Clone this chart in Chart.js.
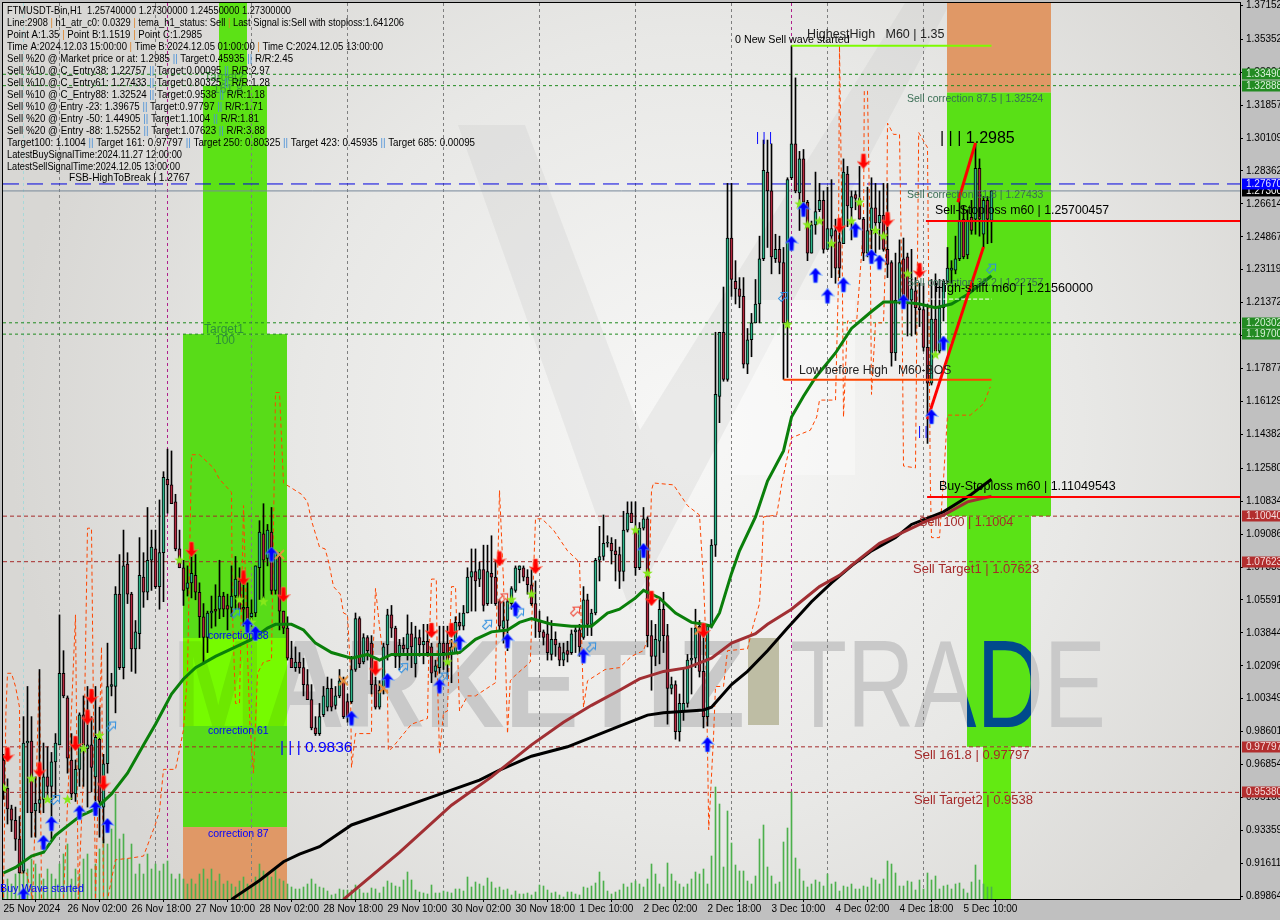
<!DOCTYPE html>
<html>
<head>
<meta charset="utf-8">
<title>FTMUSDT H1</title>
<style>
  html, body { margin: 0; padding: 0; background: #c0c0c0; }
  canvas { display: block; }
</style>
<script src="https://cdn.jsdelivr.net/npm/chart.js@4/dist/chart.umd.min.js"></script>
</head>
<body>
<canvas id="chart" width="1280" height="920" style="width:1280px;height:920px"></canvas>
<script>
// Candles, one per hour, first bar is 25 Nov 10:00
const highs = [
  .974,.961,.947,.946,.941,.994,1.010,.994,.962,1.019,
  .980,.978,.975,.985,1.048,1.029,1.005,.985,.971,.996,
  1.005,1.010,.994,1.010,.999,.974,1.033,1.017,1.063,1.080,
  1.093,1.081,1.060,1.045,1.089,1.081,1.105,1.093,1.093,1.109,
  1.124,1.136,1.135,1.112,1.093,1.077,1.074,1.080,1.080,1.065,
  1.054,1.050,1.058,1.064,1.077,1.060,1.059,1.074,1.079,1.073,
  1.070,1.065,1.056,1.074,1.098,1.107,1.096,1.105,1.082,1.081,
  1.050,1.047,1.034,1.031,1.028,1.025,1.019,1.011,.994,1.001,
  1.010,1.015,1.014,1.010,1.019,1.015,1.006,1.026,1.049,1.047,
  1.038,1.037,1.037,1.015,1.013,1.033,1.051,1.053,1.042,1.035,
  1.036,1.048,1.044,1.042,1.040,1.043,1.043,1.033,1.024,1.042,
  1.042,1.042,1.035,1.047,1.049,1.053,1.073,1.083,1.083,1.076,
  1.085,1.085,1.090,1.077,1.056,1.055,1.056,1.063,1.074,1.074,
  1.074,1.072,1.072,1.066,1.050,1.040,1.047,1.045,1.039,1.033,
  1.033,1.034,1.040,1.042,1.043,1.063,1.059,1.051,1.078,1.095,
  1.101,1.090,1.089,1.088,1.084,1.103,1.108,1.108,1.108,1.097,
  1.105,1.100,1.045,1.043,1.056,1.060,1.043,1.015,1.013,1.006,
  1.020,1.027,1.041,1.051,1.045,1.042,1.043,1.088,1.198,1.198,
  1.222,1.277,1.277,1.236,1.227,1.227,1.200,1.208,1.226,1.249,
  1.300,1.300,1.298,1.250,1.249,1.243,1.280,1.350,1.333,1.294,
  1.295,1.268,1.257,1.283,1.277,1.273,1.275,1.279,1.258,1.258,
  1.290,1.286,1.273,1.273,1.286,1.259,1.275,1.280,1.277,1.273,
  1.277,1.277,1.236,1.240,1.247,1.248,1.240,1.242,1.227,1.224,
  1.224,1.213,1.226,1.229,1.226,1.226,1.243,1.236,1.249,1.272,
  1.265,1.263,1.268,1.298,1.290,1.270,1.270,1.273
];
const lows = [
  .950,.937,.933,.923,.911,.911,.943,.930,.930,.943,
  .943,.950,.929,.951,.979,1.004,.964,.950,.949,.957,
  .957,.946,.954,.946,.930,.927,.964,1.005,.996,1.019,
  1.014,1.054,1.018,1.017,1.030,1.052,1.056,1.061,1.062,1.051,
  1.055,1.102,1.107,1.082,1.073,1.053,1.058,1.057,1.056,1.036,
  1.022,1.028,1.041,1.042,1.046,1.047,1.040,1.047,1.051,1.051,
  1.042,1.040,1.042,1.047,1.056,1.057,1.074,1.059,1.059,1.040,
  1.038,1.024,1.020,1.018,1.017,1.005,1.003,.987,.984,.984,
  .994,.997,.997,.998,1.004,.993,.991,1.001,1.018,1.020,
  1.022,1.024,1.006,.998,.998,1.006,1.024,1.036,1.020,1.019,
  1.028,1.024,1.020,1.015,1.026,1.022,1.026,1.012,1.015,1.017,
  1.019,1.015,1.012,1.028,1.040,1.040,1.049,1.050,1.050,1.063,
  1.050,1.053,1.054,1.053,1.040,1.033,1.029,1.051,1.060,1.065,
  1.066,1.059,1.053,1.036,1.036,1.032,1.024,1.024,1.026,1.021,
  1.021,1.023,1.027,1.028,1.026,1.035,1.037,1.037,1.048,1.066,
  1.077,1.084,1.075,1.066,1.062,1.066,1.092,1.097,1.069,1.072,
  1.093,1.031,1.008,1.021,1.022,1.028,.990,1.006,.982,.981,
  .992,.999,1.006,1.020,1.015,.988,.989,1.041,1.079,1.150,
  1.172,1.172,1.217,1.213,1.211,1.179,1.176,1.185,1.203,1.203,
  1.236,1.243,1.229,1.235,1.229,1.173,1.174,1.279,1.272,1.252,
  1.265,1.236,1.240,1.250,1.262,1.240,1.242,1.227,1.224,1.227,
  1.245,1.254,1.247,1.263,1.258,1.236,1.238,1.242,1.240,1.242,
  1.241,1.227,1.180,1.183,1.213,1.215,1.196,1.196,1.197,1.201,
  1.188,1.139,1.170,1.187,1.187,1.204,1.224,1.224,1.229,1.236,
  1.237,1.237,1.250,1.250,1.249,1.243,1.245,1.2455
];
const opens = [
  .971,.956,.945,.939,.929,.912,.980,.981,.944,.948,
  .950,.962,.957,.970,.979,1.017,1.004,.971,.953,.966,
  .995,.977,.979,.962,.982,.946,.969,1.010,1.010,1.059,
  1.020,1.075,1.059,1.030,1.038,1.068,1.060,1.077,1.083,1.063,
  1.081,1.120,1.117,1.108,1.083,1.073,1.062,1.065,1.069,1.060,
  1.047,1.036,1.049,1.051,1.051,1.058,1.053,1.052,1.058,1.066,
  1.052,1.052,1.047,1.049,1.073,1.091,1.078,1.092,1.061,1.079,
  1.050,1.041,1.025,1.020,1.023,1.020,1.011,1.003,.988,.985,
  .995,.999,1.009,1.000,1.005,1.014,1.002,1.002,1.019,1.046,
  1.023,1.036,1.033,1.011,.999,1.008,1.032,1.048,1.041,1.026,
  1.032,1.030,1.038,1.022,1.036,1.032,1.034,1.031,1.018,1.020,
  1.033,1.033,1.028,1.028,1.044,1.042,1.049,1.068,1.071,1.067,
  1.072,1.054,1.070,1.068,1.055,1.041,1.045,1.054,1.061,1.072,
  1.073,1.068,1.064,1.054,1.045,1.039,1.038,1.027,1.035,1.031,
  1.024,1.029,1.028,1.039,1.040,1.036,1.056,1.043,1.049,1.077,
  1.079,1.086,1.086,1.082,1.080,1.071,1.093,1.102,1.093,1.073,
  1.094,1.099,1.037,1.026,1.034,1.051,1.037,1.009,1.011,.986,
  .997,1.001,1.024,1.025,1.042,1.018,.994,1.042,1.085,1.164,
  1.198,1.173,1.248,1.225,1.221,1.217,1.181,1.194,1.203,1.213,
  1.237,1.283,1.273,1.237,1.242,1.235,1.202,1.280,1.298,1.272,
  1.290,1.267,1.240,1.255,1.263,1.268,1.242,1.249,1.252,1.246,
  1.245,1.282,1.264,1.271,1.269,1.258,1.240,1.252,1.264,1.256,
  1.260,1.242,1.235,1.187,1.215,1.237,1.238,1.215,1.220,1.211,
  1.210,1.190,1.171,1.205,1.188,1.211,1.225,1.231,1.231,1.237,
  1.258,1.239,1.259,1.258,1.285,1.250,1.268,1.2574
];
const closes = [
  .958,.945,.939,.929,.911,.980,.981,.943,.948,.950,
  .962,.957,.970,.980,1.017,1.005,.972,.953,.966,.995,
  .979,.979,.967,.983,.949,.969,1.010,1.011,1.059,1.020,
  1.074,1.059,1.030,1.039,1.069,1.060,1.077,1.084,1.063,1.081,
  1.121,1.117,1.107,1.083,1.073,1.061,1.065,1.070,1.060,1.047,
  1.036,1.049,1.050,1.050,1.058,1.051,1.051,1.058,1.067,1.051,
  1.051,1.045,1.049,1.074,1.092,1.077,1.093,1.061,1.081,1.050,
  1.041,1.025,1.020,1.023,1.020,1.011,1.003,.988,.985,.994,
  1.005,1.009,.999,1.005,1.013,.994,.994,1.019,1.046,1.022,
  1.036,1.029,1.011,.999,1.008,1.031,1.048,1.041,1.026,1.032,
  1.030,1.038,1.031,1.036,1.032,1.034,1.028,1.017,1.021,1.033,
  1.028,1.024,1.031,1.044,1.042,1.049,1.068,1.071,1.066,1.072,
  1.053,1.071,1.068,1.054,1.042,1.045,1.055,1.062,1.073,1.074,
  1.068,1.064,1.054,1.045,1.039,1.036,1.028,1.035,1.032,1.024,
  1.028,1.027,1.038,1.040,1.031,1.056,1.043,1.049,1.077,1.079,
  1.086,1.086,1.082,1.080,1.071,1.093,1.102,1.097,1.073,1.094,
  1.099,1.037,1.026,1.035,1.051,1.037,1.009,1.011,.986,1.001,
  1.001,1.024,1.025,1.041,1.018,.994,1.042,1.085,1.165,1.198,
  1.173,1.248,1.226,1.221,1.217,1.181,1.194,1.203,1.213,1.237,
  1.284,1.273,1.238,1.242,1.235,1.203,1.279,1.298,1.273,1.290,
  1.267,1.240,1.255,1.262,1.268,1.242,1.253,1.253,1.232,1.232,
  1.283,1.265,1.270,1.269,1.258,1.240,1.252,1.264,1.256,1.260,
  1.242,1.234,1.187,1.215,1.235,1.215,1.215,1.221,1.211,1.210,
  1.190,1.171,1.205,1.188,1.211,1.225,1.232,1.232,1.237,1.257,
  1.238,1.257,1.252,1.285,1.258,1.268,1.258,1.273
];
// tick volume, arbitrary units
const volumes = [
  10,20,15,25,40,35,30,40,35,25,
  20,30,25,20,35,45,55,20,30,25,
  40,45,30,35,50,60,55,70,105,60,
  65,40,55,25,35,25,45,30,35,28,
  35,38,25,20,25,20,15,20,15,25,
  30,20,30,18,25,15,18,15,12,18,
  22,15,12,22,35,28,25,22,30,20,
  18,15,12,10,10,12,15,20,15,12,
  11,8,4,5,10,9,9,9,14,10,
  6,6,11,10,6,12,18,16,13,12,
  19,27,19,9,7,6,5,14,6,6,
  8,7,6,10,10,8,22,12,17,15,
  13,21,17,11,12,9,10,4,8,5,
  5,6,4,7,14,13,9,6,7,4,
  2,7,7,5,4,12,11,13,16,27,
  18,8,5,7,9,15,12,16,18,15,
  12,20,35,25,15,12,36,25,18,15,
  12,15,20,27,25,30,15,43,112,95,
  32,88,56,34,28,28,18,15,23,60,
  74,32,23,15,17,57,71,107,41,30,
  18,12,15,19,17,13,25,15,17,8,
  13,12,15,10,10,13,12,21,19,15,
  20,38,35,26,13,13,18,17,9,19,
  10,26,19,23,10,13,14,10,15,16,
  10,6,17,34,19,15,12,12
];

// moving averages, read at the bars where the line turns
const greenIdx = [0,3,7,10,13,16,19,23,27,31,35,38,42,45,48,53,57,62,66,68,72,75,78,82,87,91,94,97,103,110,114,118,122,126,129,132,137,142,147,151,154,158,160,164,168,172,175,177,179,182,184,188,191,195,197,200,203,208,212,217,220,225,229,233,237,241,247];
const greenVals = [.911,.914,.920,.922,.931,.936,.941,.945,.953,.964,.979,.990,1.006,1.014,1.020,1.026,1.030,1.035,1.041,1.043,1.043,1.040,1.033,1.028,1.025,1.027,1.024,1.027,1.027,1.027,1.028,1.035,1.039,1.040,1.044,1.046,1.043,1.042,1.042,1.049,1.051,1.057,1.061,1.057,1.049,1.044,1.043,1.042,1.049,1.070,1.082,1.100,1.119,1.135,1.153,1.164,1.174,1.187,1.200,1.209,1.214,1.214,1.213,1.211,1.213,1.218,1.228];
const blackIdx = [57,64,70,74,79,87,107,119,124,132,141,154,161,165,175,177,182,186,191,196,202,207,212,217,223,227,235,242,247];
const blackVals = [.897,.907,.917,.921,.925,.9365,.9513,.9603,.9656,.973,.978,.989,.9948,.996,.9975,.999,1.011,1.018,1.029,1.041,1.055,1.065,1.074,1.082,1.089,1.096,1.1027,1.112,1.120];
const brownIdx = [85,99,112,122,132,140,147,154,159,165,171,177,182,188,191,197,204,209,213,219,226,231,235,241,247];
const brownVals = [.897,.922,.947,.962,.979,.991,1.000,1.008,1.014,1.018,1.020,1.025,1.033,1.038,1.043,1.051,1.063,1.069,1.076,1.086,1.093,1.098,1.101,1.108,1.111];

// dashed band
const bandIdx = [0,.6,1,2,3,4,4.3,5.8,7.3,9,9.5,15,18,18.7,20,21,22,23,24.5,25,26,28,32,35,38,39,40,43,45,46,47,49,52.5,54,57,57.2,58,59,60,61,61.6,62.5,63.5,65,67,68,69,70,74.5,76,77,79,80.4,81.3,82.5,84.2,85,86,86.7,87,88,92,92.1,93,94,96,96.2,97,102,106,106.3,107,108.2,108.5,109,110,111,112,113,114,116,118,123,123.3,124,125,126,126.7,127.5,131.7,133,134.6,137.5,141,144,144.6,145,146,150.4,154,157,160,161,162,162.5,167.5,171,174,175,175.4,176,176.3,177.5,178,180,181,186,187.5,189,189.6,190,193.3,194.6,197,201.7,203.3,204,208,208.7,209,209.6,210,211,213.3,215,215.2,216,216.7,217,218,220,220.8,221,222.5,224,224.6,225,228,228.8,231,231.3,231.7,232,234,235,236,241.7,245,246.7];
const bandVals = [.898,.996,1.017,1.017,1.010,.999,.911,.911,.897,1.019,.897,.897,1.048,.897,.964,1.094,1.094,.897,1.031,.897,.897,.918,.919,.920,.937,.944,.966,.966,.987,1.017,1.133,1.133,1.126,1.120,1.113,1.052,1.001,1.001,1.106,1.027,.990,.964,1.017,1.023,1.024,1.166,1.166,1.118,1.112,1.108,1.098,1.084,1.083,1.076,1.063,1.059,1.049,1.048,1.020,.967,.985,.985,1.010,1.062,1.042,1.006,.976,.977,.990,.993,1.026,1.067,1.067,1.013,.974,.996,.997,1.063,1.063,.997,1.005,1.005,1.012,1.049,1.114,1.066,.985,1.013,1.015,1.023,1.099,1.099,1.093,1.082,1.076,1.031,.999,1.013,1.019,1.020,1.026,1.029,1.035,1.114,1.118,1.117,1.106,1.101,1.066,1.045,.978,.934,.983,1.010,1.010,1.029,1.030,1.043,1.054,1.077,1.100,1.101,1.118,1.142,1.146,1.153,1.162,1.162,1.222,1.350,1.258,1.153,1.204,1.204,1.254,1.326,1.326,1.240,1.165,1.203,1.203,1.258,1.309,1.303,1.303,1.222,1.127,1.126,1.304,1.296,1.222,1.119,1.089,1.089,1.120,1.154,1.154,1.160,1.169];

// signals
const blueUpIdx = [5,10,12,19,23,26,61,63,67,87,96,109,114,126,128,145,160,176,197,200,203,206,210,213,217,219,225,235,232];
const blueUpVals = [.899,.927,.937,.943,.945,.936,1.042,1.038,1.080,.993,1.013,1.010,1.033,1.034,1.051,1.026,1.082,.979,1.245,1.263,1.228,1.217,1.223,1.252,1.238,1.235,1.214,1.192,1.153];
const redDownIdx = [1,9,18,21,22,25,47,60,70,93,107,112,124,133,162,175,209,215,221,229];
const redDownVals = [.974,.966,.980,.994,1.005,.959,1.083,1.068,1.059,1.020,1.040,1.040,1.078,1.074,1.057,1.040,1.255,1.289,1.258,1.231];
const starIdx = [0,7,11,16,20,24,44,59,65,62,111,127,132,158,161,196,199,201,204,207,212,214,218,220,226,233];
const starVals = [.956,.961,.950,.950,.977,.984,1.077,1.056,1.055,1.044,1.023,1.056,1.059,1.093,1.070,1.202,1.266,1.255,1.257,1.245,1.257,1.267,1.252,1.249,1.229,1.186];
const crossIdx = [69,85,95,113,174];
const crossVals = [1.080,1.013,1.009,1.032,1.040];
const hollowIdx = [13,27,58,100,110,121,129,147,195,247];
const hollowVals = [.950,.989,1.049,1.020,1.015,1.043,1.049,1.031,1.217,1.232];
const hollowRedIdx = [125,143];
const hollowRedVals = [1.057,1.050];

// axis labels
const yTicks = [1.37152,1.35352,1.33604,1.31857,1.30109,1.28362,1.26614,1.24867,1.23119,1.21372,1.19625,1.17877,1.16129,1.14382,1.12580,1.10834,1.09086,1.07339,1.05591,1.03844,1.02096,1.00349,.98601,.96854,.95106,.93359,.91611,.89864];
const xTickIdx = [0,16,32,48,64,80,96,112,128,144,160,176,192,208,224,240];
const xTickLabels = ["25 Nov 2024","26 Nov 02:00","26 Nov 18:00","27 Nov 10:00","28 Nov 02:00","28 Nov 18:00","29 Nov 10:00","30 Nov 02:00","30 Nov 18:00","1 Dec 10:00","2 Dec 02:00","2 Dec 18:00","3 Dec 10:00","4 Dec 02:00","4 Dec 18:00","5 Dec 10:00"];
const dayLineIdx = [14,38,62,86,110,134,158,182,206,230];
const signalLineIdx = [41,197];

// price levels
const greenLevels = [1.3349,1.32888,1.20302,1.197];
const redLevels = [1.1004,1.07623,.97797,.9538];
const priceTop = 1.37274, priceBottom = .89721;
const firstSlot = -.125, lastSlot = 309.125;

// target boxes
const zoneA = { wide: [44.875,70.875], mid: [49.875,65.875], narrow: [53.875,60.875] };
const zoneB = { wide: [235.875,261.875], mid: [240.875,256.875], narrow: [244.875,251.875] };

const infoLines = [
  "FTMUSDT-Bin,H1  1.25740000 1.27300000 1.24550000 1.27300000",
  "Line:2908 | h1_atr_c0: 0.0329 | tema_h1_status: Sell | Last Signal is:Sell with stoploss:1.641206",
  "Point A:1.35 | Point B:1.1519 | Point C:1.2985",
  "Time A:2024.12.03 15:00:00 | Time B:2024.12.05 01:00:00 | Time C:2024.12.05 13:00:00",
  "Sell %20 @ Market price or at: 1.2985 || Target:0.45935 || R/R:2.45",
  "Sell %10 @ C_Entry38: 1.22757 || Target:0.00095 || R/R:2.97",
  "Sell %10 @ C_Entry61: 1.27433 || Target:0.80325 || R/R:1.28",
  "Sell %10 @ C_Entry88: 1.32524 || Target:0.9538 || R/R:1.18",
  "Sell %10 @ Entry -23: 1.39675 || Target:0.97797 || R/R:1.71",
  "Sell %20 @ Entry -50: 1.44905 || Target:1.1004 || R/R:1.81",
  "Sell %20 @ Entry -88: 1.52552 || Target:1.07623 || R/R:3.88",
  "Target100: 1.1004 || Target 161: 0.97797 || Target 250: 0.80325 || Target 423: 0.45935 || Target 685: 0.00095",
  "LatestBuySignalTime:2024.11.27 12:00:00",
  "LatestSellSignalTime:2024.12.05 13:00:00"
];
// where each info line ends in the reference, the font is squeezed to it
const infoEnds = [291,404,202,383,293,270,270,265,263,259,265,475,182,180];

const SANS = '"Liberation Sans", Arial, sans-serif';

function pts(idx, vals) {
  return idx.map((x, k) => ({ x: x, y: vals[k] }));
}

function iconCanvas(w, h, draw) {
  const c = document.createElement("canvas");
  c.width = w;
  c.height = h;
  draw(c.getContext("2d"));
  return c;
}

// arrow head with a stem, pointing up
function arrowPath(g) {
  g.beginPath();
  g.moveTo(7, 0);
  g.lineTo(13.5, 7.5);
  g.lineTo(9.5, 6.5);
  g.lineTo(9, 15);
  g.lineTo(5, 15);
  g.lineTo(4.5, 6.5);
  g.lineTo(.5, 7.5);
  g.closePath();
}
const blueArrow = iconCanvas(14, 16, g => {
  arrowPath(g);
  g.fillStyle = "#0000ff";
  g.fill();
  g.strokeStyle = "rgba(120,190,255,.6)";
  g.lineWidth = 1;
  g.stroke();
});
const redArrow = iconCanvas(14, 16, g => {
  g.translate(0, 16);
  g.scale(1, -1);
  arrowPath(g);
  g.fillStyle = "#ff0000";
  g.fill();
  g.strokeStyle = "rgba(255,120,90,.6)";
  g.lineWidth = 1;
  g.stroke();
});
const limeStar = iconCanvas(11, 11, g => {
  g.beginPath();
  for (let k = 0; k < 10; k++) {
    const r = k % 2 ? 2.2 : 5.5;
    const a = -Math.PI / 2 + k * Math.PI / 5;
    g[k ? "lineTo" : "moveTo"](5.5 + r * Math.cos(a), 5.5 + r * Math.sin(a));
  }
  g.closePath();
  g.fillStyle = "#86e81a";
  g.fill();
});
const orangeCross = iconCanvas(11, 11, g => {
  g.strokeStyle = "#e8913c";
  g.lineWidth = 2;
  g.beginPath();
  g.moveTo(1, 1); g.lineTo(10, 10);
  g.moveTo(10, 1); g.lineTo(1, 10);
  g.stroke();
});
function hollowArrow(color) {
  return iconCanvas(13, 13, g => {
    g.translate(6.5, 6.5);
    g.rotate(Math.PI / 4);
    g.translate(-6.5, -7);
    g.beginPath();
    g.moveTo(6.5, 1);
    g.lineTo(11, 6);
    g.lineTo(8.5, 6);
    g.lineTo(8.5, 12);
    g.lineTo(4.5, 12);
    g.lineTo(4.5, 6);
    g.lineTo(2, 6);
    g.closePath();
    g.strokeStyle = color;
    g.lineWidth = 1;
    g.stroke();
  });
}

function lineSet(data, color, width, order, dash) {
  return {
    type: "line",
    data: data,
    borderColor: color,
    borderWidth: width,
    borderDash: dash || [],
    pointRadius: 0,
    tension: 0,
    fill: false,
    order: order
  };
}
function signalSet(idx, vals, icon) {
  return {
    type: "line",
    data: pts(idx, vals),
    showLine: false,
    pointStyle: icon,
    pointRadius: 6,
    order: 1
  };
}

const wicks = highs.map((h, i) => ({ x: i, y: [lows[i], h] }));
const bodies = opens.map((o, i) => ({ x: i, y: [Math.min(o, closes[i]), Math.max(o, closes[i])] }));
const bodyColors = opens.map((o, i) => (closes[i] >= o ? "#2db58a" : "#b3283f"));
const volumeBars = volumes.map((v, i) => ({ x: i, y: v }));

const levelSets = [];
greenLevels.forEach(v => {
  levelSets.push(lineSet(pts([firstSlot, lastSlot], [v, v]), "#1f8a1f", 1, 30, [3, 3]));
});
redLevels.forEach(v => {
  levelSets.push(lineSet(pts([firstSlot, lastSlot], [v, v]), "#a52a2a", 1, 30, [4, 3]));
});
levelSets.push(lineSet(pts([firstSlot, lastSlot], [1.2767, 1.2767]), "#0000e0", 1, 30, [16, 8]));
levelSets.push(lineSet(pts([firstSlot, lastSlot], [1.273, 1.273]), "#77889a", 1, 30));

// background, watermark and boxes
const backdrop = {
  id: "backdrop",
  beforeDraw(chart) {
    const ctx = chart.ctx;
    const a = chart.chartArea;
    ctx.save();
    ctx.fillStyle = "#c0c0c0";
    ctx.fillRect(0, 0, 1280, 920);

    ctx.beginPath();
    ctx.rect(a.left, a.top, a.right - a.left, a.bottom - a.top);
    ctx.clip();
    const bg = ctx.createRadialGradient(690, 430, 40, 690, 430, 680);
    bg.addColorStop(0, "#f6f6f5");
    bg.addColorStop(.55, "#e8e8e6");
    bg.addColorStop(1, "#d8d7d4");
    ctx.fillStyle = bg;
    ctx.fillRect(a.left, a.top, a.right - a.left, a.bottom - a.top);

    // faded logo shapes
    ctx.fillStyle = "rgba(190,190,190,.22)";
    ctx.beginPath();
    ctx.moveTo(458, 125); ctx.lineTo(525, 125); ctx.lineTo(640, 430);
    ctx.lineTo(905, 3); ctx.lineTo(950, 3); ctx.lineTo(630, 610);
    ctx.closePath();
    ctx.fill();
    ctx.fillStyle = "rgba(255,255,255,.35)";
    ctx.fillRect(731, 300, 124, 175);

    drawWatermark(ctx, "#c9c9c9");
    ctx.restore();
  },
  beforeDatasetsDraw(chart) {
    const ctx = chart.ctx;
    const a = chart.chartArea;
    const x = chart.scales.x;
    const y = chart.scales.y;
    const box = (span, top, bottom, color) => {
      const x0 = x.getPixelForValue(span[0]);
      const x1 = x.getPixelForValue(span[1]);
      const y0 = y.getPixelForValue(top);
      const y1 = y.getPixelForValue(bottom);
      ctx.fillStyle = color;
      ctx.fillRect(x0, y0, x1 - x0, y1 - y0);
    };
    ctx.save();
    ctx.beginPath();
    ctx.rect(a.left, a.top, a.right - a.left, a.bottom - a.top);
    ctx.clip();

    box(zoneA.narrow, priceTop, 1.32888, "#5ce216");
    box(zoneA.mid, 1.32888, 1.197, "#5ce216");
    box(zoneA.wide, 1.197, .9354, "#58dc18");
    box(zoneA.wide, .9354, priceBottom, "#e09866");
    box(zoneB.wide, priceTop, 1.3252, "#e09866");
    box(zoneB.wide, 1.3252, 1.1004, "#59e016");
    box(zoneB.mid, 1.1004, .97797, "#5ae316");
    box(zoneB.narrow, .97797, priceBottom, "#63ea12");

    // watermark seen through the boxes
    ctx.save();
    ctx.beginPath();
    ctx.rect(x.getPixelForValue(zoneA.wide[0]), 638, x.getPixelForValue(zoneA.wide[1]) - x.getPixelForValue(zoneA.wide[0]), 88);
    ctx.clip();
    ctx.fillStyle = "#76fb00";
    ctx.fillRect(a.left, 630, 400, 100);
    drawWatermark(ctx, "#6de800");
    ctx.restore();
    ctx.save();
    ctx.beginPath();
    ctx.rect(x.getPixelForValue(zoneB.mid[0]), 630, x.getPixelForValue(zoneB.mid[1]) - x.getPixelForValue(zoneB.mid[0]), 100);
    ctx.clip();
    drawWatermark(ctx, "#004a8c");
    ctx.restore();

    // day separators
    ctx.lineWidth = 1;
    ctx.setLineDash([3, 3]);
    ctx.strokeStyle = "#7f7f7f";
    dayLineIdx.forEach(i => {
      const px = Math.floor(x.getPixelForValue(i)) + .5;
      ctx.beginPath();
      ctx.moveTo(px, a.top);
      ctx.lineTo(px, a.bottom);
      ctx.stroke();
    });
    ctx.strokeStyle = "#b0208c";
    signalLineIdx.forEach(i => {
      const px = Math.floor(x.getPixelForValue(i)) + .5;
      ctx.beginPath();
      ctx.moveTo(px, a.top);
      ctx.lineTo(px, a.bottom);
      ctx.stroke();
    });
    ctx.strokeStyle = "#a8d8d8";
    const tealX = Math.floor(x.getPixelForValue(5)) + .5;
    ctx.beginPath();
    ctx.moveTo(tealX, a.top);
    ctx.lineTo(tealX, a.bottom);
    ctx.stroke();
    ctx.restore();
  },
  afterDraw(chart) {
    const ctx = chart.ctx;
    const a = chart.chartArea;
    const y = chart.scales.y;
    ctx.save();
    ctx.textBaseline = "middle";
    ctx.textAlign = "left";

    // frame
    ctx.strokeStyle = "#000";
    ctx.lineWidth = 1;
    ctx.strokeRect(a.left - .5, a.top - .5, a.right - a.left + 1, a.bottom - a.top + 1);

    // notes on the chart
    const note = (s, px, py, color, size) => {
      ctx.font = (size || 11) + "px " + SANS;
      ctx.fillStyle = color;
      ctx.fillText(s, px, py);
    };
    note("Target2", 204, 78, "#3f9a3f", 12);
    note("161.8", 213, 90, "#3f9a3f", 12);
    note("Target1", 204, 330, "#2f8f3a", 12);
    note("100", 215, 341, "#2f8f3a", 12);
    note("correction 38", 208, 636, "#0000ff", 10.5);
    note("correction 61", 208, 731, "#0000ff", 10.5);
    note("correction 87", 208, 834, "#0000ff", 10.5);
    note("Buy Wave started", 0, 889, "#0000ff", 10.7);
    note("| | | 0.9836", 280, 748, "#0000ff", 15.5);
    note("| | |", 756, 138, "#0000ff", 12);
    note("| |", 918, 432, "#0000ff", 12);
    note("| | | 1.2985", 940, 139, "#000", 16);
    note("0 New Sell wave started", 735, 40, "#000", 10.7);
    note("HighestHigh   M60 | 1.35", 807, 35, "#222", 12.5);
    note("Sell correction 87.5 | 1.32524", 907, 99, "#3a6e55", 10.5);
    note("Sell correction 61.8 | 1.27433", 907, 195, "#3a6e55", 10.5);
    note("Sell correction 38.2 | 1.22757", 907, 283, "#3a6e55", 10.5);
    note("Sell-Stoploss m60 | 1.25700457", 935, 211, "#000", 12.3);
    note("High-shift m60 | 1.21560000", 935, 289, "#000", 12.6);
    note("Buy-Stoploss m60 | 1.11049543", 939, 487, "#000", 12.5);
    note("Low before High   M60-BOS", 799, 371, "#222", 12.2);
    note("Sell 100 | 1.1004", 919, 523, "#a52a2a", 12.6);
    note("Sell Target1 | 1.07623", 913, 569, "#a52a2a", 13);
    note("Sell 161.8 | 0.97797", 914, 755, "#a52a2a", 13);
    note("Sell Target2 | 0.9538", 914, 800, "#a52a2a", 13);

    // info block
    ctx.font = "11px " + SANS;
    infoLines.forEach((line, k) => {
      const sx = (infoEnds[k] - 7) / ctx.measureText(line).width;
      ctx.save();
      ctx.translate(7, 10.7 + k * 12);
      ctx.scale(sx, 1);
      let px = 0;
      line.split(/(\|+)/).forEach(part => {
        ctx.fillStyle = part === "|" ? "#e0852a" : part === "||" ? "#4a90d8" : "#000";
        ctx.fillText(part, px, 0);
        px += ctx.measureText(part).width;
      });
      ctx.restore();
    });
    ctx.fillStyle = "#000";
    ctx.font = "10.2px " + SANS;
    ctx.fillText("FSB-HighToBreak | 1.2767", 69, 178);

    // price tags
    const tag = (v, bg, fg) => {
      const py = Math.round(y.getPixelForValue(v));
      ctx.fillStyle = bg;
      ctx.fillRect(1242, py - 5.5, 38, 11);
      ctx.fillStyle = fg;
      ctx.font = "10px " + SANS;
      ctx.fillText(v.toFixed(5), 1246, py);
    };
    greenLevels.forEach(v => tag(v, "#228b22", "#d8f0d8"));
    redLevels.forEach(v => tag(v, "#b22e2e", "#f5dcdc"));
    tag(1.273, "#000", "#fff");
    tag(1.2767, "#0000ff", "#e0e0ff");
    ctx.restore();
  }
};

function drawWatermark(ctx, color) {
  ctx.save();
  ctx.fillStyle = color;
  ctx.textBaseline = "alphabetic";
  ctx.textAlign = "left";
  const fitted = (s, font, x0, x1) => {
    ctx.font = font;
    const w = ctx.measureText(s).width;
    ctx.save();
    ctx.translate(x0, 727);
    ctx.scale((x1 - x0) / w, 1);
    ctx.fillText(s, 0, 0);
    ctx.restore();
  };
  fitted("MARKETIZ", "bold 124px " + SANS, 172, 745);
  fitted("TRADE", "124px " + SANS, 790, 1106);
  ctx.restore();
  ctx.fillStyle = color === "#c9c9c9" ? "#bebda4" : color;
  ctx.fillRect(748, 638, 31, 87);
}

new Chart(document.getElementById("chart").getContext("2d"), {
  type: "bar",
  data: {
    datasets: [
      { data: volumeBars, yAxisID: "yVol", backgroundColor: "#4cb04c", barThickness: 1, grouped: false, order: 20 },
      ...levelSets,
      lineSet(pts(bandIdx, bandVals), "#ff4500", 1, 12, [4, 3]),
      { data: wicks, backgroundColor: "#000", barThickness: 1, grouped: false, order: 10 },
      { data: bodies, backgroundColor: bodyColors, borderColor: "#000", borderWidth: 1, borderSkipped: false, barThickness: 3, grouped: false, minBarLength: 1, order: 9 },
      lineSet(pts(greenIdx, greenVals), "#0a7f0a", 3, 5),
      lineSet(pts(blackIdx, blackVals), "#000", 3, 5),
      lineSet(pts(brownIdx, brownVals), "#a12f33", 3, 4),
      lineSet(pts([197, 247], [1.35, 1.35]), "#7cfc00", 2, 3),
      lineSet(pts([195, 247], [1.1728, 1.1728]), "#ff4500", 2, 3),
      lineSet(pts([230.4, 247], [1.2156, 1.2156]), "#fff", 1, 3, [4, 2]),
      lineSet(pts([230.6, lastSlot], [1.25700457, 1.25700457]), "#ff0000", 2, 3),
      lineSet(pts([230.9, lastSlot], [1.11049543, 1.11049543]), "#ff0000", 2, 3),
      lineSet(pts([231, 245], [1.1519, 1.2433]), "#ff0000", 3, 2),
      lineSet(pts([238.6, 243], [1.267, 1.2985]), "#ff0000", 3, 2),
      signalSet(blueUpIdx, blueUpVals, blueArrow),
      signalSet(redDownIdx, redDownVals, redArrow),
      signalSet(starIdx, starVals, limeStar),
      signalSet(crossIdx, crossVals, orangeCross),
      signalSet(hollowIdx, hollowVals, hollowArrow("#2f8fe0")),
      signalSet(hollowRedIdx, hollowRedVals, hollowArrow("#f04030"))
    ]
  },
  plugins: [backdrop],
  options: {
    responsive: false,
    animation: false,
    events: [],
    layout: { autoPadding: false, padding: { left: 3, top: 3, right: 0, bottom: 0 } },
    plugins: { legend: { display: false }, tooltip: { enabled: false } },
    scales: {
      x: {
        type: "linear",
        offset: false,
        min: firstSlot,
        max: lastSlot,
        afterFit: s => { s.height = 21; s.paddingLeft = 0; s.paddingRight = 0; },
        afterBuildTicks: s => { s.ticks = xTickIdx.map(v => ({ value: v })); },
        grid: { drawOnChartArea: false, tickLength: 3, color: "#000" },
        border: { color: "#000" },
        ticks: {
          autoSkip: false,
          maxRotation: 0,
          align: "start",
          padding: 1,
          color: "#000",
          font: { family: SANS, size: 10 },
          callback: v => xTickLabels[xTickIdx.indexOf(v)]
        }
      },
      y: {
        position: "right",
        min: priceBottom,
        max: priceTop,
        afterFit: s => { s.width = 40; s.paddingTop = 0; s.paddingBottom = 0; },
        afterBuildTicks: s => { s.ticks = yTicks.map(v => ({ value: v })); },
        grid: { drawOnChartArea: false, tickLength: 3, color: "#000" },
        border: { color: "#000" },
        ticks: {
          autoSkip: false,
          padding: 3,
          color: "#000",
          font: { family: SANS, size: 10 },
          callback: v => v.toFixed(5)
        }
      },
      yVol: { display: false, min: 0, max: 896 }
    }
  }
});
</script>
</body>
</html>
